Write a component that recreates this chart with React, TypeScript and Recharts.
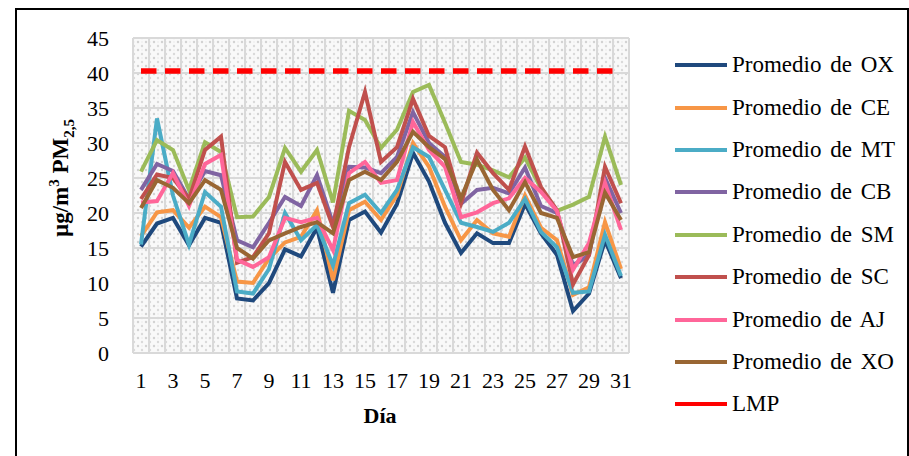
import { LineChart, Line, XAxis, YAxis, CartesianGrid } from 'recharts';

// día del mes
const DAYS = [1, 2, 3, 4, 5, 6, 7, 8, 9, 10, 11, 12, 13, 14, 15, 16, 17, 18, 19, 20, 21, 22, 23, 24, 25, 26, 27, 28, 29, 30, 31];
const X_TICKS = [1, 3, 5, 7, 9, 11, 13, 15, 17, 19, 21, 23, 25, 27, 29, 31];
const Y_TICKS = [0, 5, 10, 15, 20, 25, 30, 35, 40, 45];

// promedios diarios PM2,5 (µg/m3) por estación
const OX = [15.2, 18.5, 19.3, 15.4, 19.3, 18.6, 7.8, 7.5, 10, 14.8, 13.8, 17.9, 8.6, 19, 20.2, 17.2, 21.3, 28.6, 24.5, 18.6, 14.3, 17.1, 15.7, 15.7, 21.3, 17.1, 14, 6, 8.5, 16.1, 10.7];
const CE = [16.7, 20.1, 20.4, 17.9, 20.9, 19.4, 10.2, 10, 13.5, 15.8, 16.6, 20.4, 10.4, 20.4, 21.6, 19, 22.6, 30, 26.6, 20.9, 16.1, 19, 17.1, 16.6, 22.5, 17.9, 16.1, 8.3, 9.4, 18.7, 12];
const MT = [15.5, 33.5, 22.5, 15.5, 23, 20.9, 8.8, 8.5, 12, 20, 16.1, 18.3, 12.5, 21.4, 22.6, 20, 23.3, 29.4, 28, 23.3, 18.6, 18, 17.3, 18.6, 22, 17.3, 15.1, 8.6, 8.8, 16.9, 11];
const CB = [23.3, 27, 26, 22, 26, 25.4, 16.1, 15.1, 18.6, 22.3, 21, 25.4, 18.5, 26.6, 26.5, 25.7, 28, 34.4, 30, 28, 21.3, 23.3, 23.6, 22.8, 26.5, 21, 20, 12.5, 14, 25, 20];
const SM = [25.9, 30.4, 29, 23.3, 30.1, 28.7, 19.4, 19.5, 22.3, 29.3, 25.9, 29, 21.5, 34.6, 33.3, 29.3, 31.9, 37.3, 38.3, 32.9, 27.3, 26.9, 26.1, 25.1, 27.9, 23.5, 20.3, 21.2, 22.3, 30.9, 24];
const SC = [22, 25.5, 25, 22, 29, 30.9, 12.9, 13.7, 17.1, 27.3, 23.3, 24.3, 18, 29.4, 37.3, 27.3, 29.4, 36.3, 31, 29.4, 21.4, 28.6, 25.7, 23.3, 29.5, 23.7, 20.4, 9.8, 14, 26.6, 21.4];
const AJ = [21.5, 21.7, 25.7, 21, 27, 28.3, 13.3, 12.3, 13.7, 19.3, 18.7, 19.3, 14.7, 25.7, 27.3, 24.3, 24.7, 33, 29, 26.6, 19.4, 20.1, 21.4, 22.1, 25, 23, 20.3, 11.9, 15.7, 24.3, 17.6];
const XO = [20.7, 24.7, 23.6, 21.4, 24.7, 23.3, 15, 13.5, 16.1, 17.1, 18, 18.7, 17.1, 24.7, 25.9, 24.7, 27.3, 31.6, 29.4, 27.7, 22.1, 27.6, 23.3, 20.4, 24.4, 20, 19.3, 13.7, 14.4, 22.9, 19];
// límite máximo permisible
const LMP = 40.3;

const SERIES = [
  { key: 'OX', name: 'Promedio de OX', color: '#1f497d' },
  { key: 'CE', name: 'Promedio de CE', color: '#f79646' },
  { key: 'MT', name: 'Promedio de MT', color: '#4bacc6' },
  { key: 'CB', name: 'Promedio de CB', color: '#8064a2' },
  { key: 'SM', name: 'Promedio de SM', color: '#9bbb59' },
  { key: 'SC', name: 'Promedio de SC', color: '#c0504d' },
  { key: 'AJ', name: 'Promedio de AJ', color: '#ff6699' },
  { key: 'XO', name: 'Promedio de XO', color: '#996633' },
];

const rows = DAYS.map((day, i) => ({
  day,
  OX: OX[i], CE: CE[i], MT: MT[i], CB: CB[i],
  SM: SM[i], SC: SC[i], AJ: AJ[i], XO: XO[i],
  LMP,
}));

const FONT = '"Liberation Serif", "Times New Roman", serif';
const tick = { fill: '#000', fontSize: 22, fontFamily: FONT };

function LegendBox() {
  const items = [...SERIES, { key: 'LMP', name: 'LMP', color: '#ff0000' }];
  return (
    <div style={{ position: 'absolute', left: 675, top: 44, fontFamily: FONT, fontSize: 23, color: '#000' }}>
      {items.map((s) => (
        <div key={s.key} style={{ display: 'flex', alignItems: 'center', height: 42.4 }}>
          <span style={{ display: 'inline-block', width: 52, height: 4, background: s.color, marginRight: 5 }} />
          <span style={{ wordSpacing: 3, whiteSpace: 'nowrap' }}>{s.name}</span>
        </div>
      ))}
    </div>
  );
}

export default function App() {
  return (
    <div style={{ position: 'absolute', left: 0, top: 0, width: 909, height: 456, overflow: 'hidden', background: '#fff' }}>
      <svg width={0} height={0} style={{ position: 'absolute' }}>
        <defs>
          <pattern id="bgdots" width={8} height={8} patternUnits="userSpaceOnUse">
            <rect width={8} height={8} fill="#f9f9f9" />
            <circle cx={2} cy={2} r={1.2} fill="#d2d2d2" />
            <circle cx={6} cy={6} r={1.2} fill="#dadada" />
            <circle cx={6} cy={2} r={0.7} fill="#e6e6e6" />
          </pattern>
        </defs>
      </svg>
      <div style={{ position: 'absolute', left: 15, top: 8, width: 890, height: 470, border: '2px solid #000' }} />
      <LineChart
        width={909}
        height={456}
        data={rows}
        margin={{ top: 38, right: 280, bottom: 63, left: 0 }}
        style={{ position: 'absolute', left: 0, top: 0 }}
      >
        <CartesianGrid
          fill="url(#bgdots)"
          stroke="#d9d9d9"
          strokeWidth={2}
          verticalCoordinatesGenerator={({ offset }: any) =>
            Array.from({ length: DAYS.length + 1 }, (_, i) => offset.left + (i * offset.width) / DAYS.length)
          }
        />
        <XAxis
          dataKey="day" type="number" domain={[0.5, 31.5]} ticks={X_TICKS}
          tick={tick} tickLine={false} axisLine={false} tickSize={0} tickMargin={19}
          height={40} interval={0}
        />
        <YAxis
          type="number" domain={[0, 45]} ticks={Y_TICKS}
          tick={tick} tickLine={false} axisLine={false} tickSize={0} tickMargin={24}
          width={133} interval={0}
        />
        {SERIES.map((s) => (
          <Line
            key={s.key} type="linear" dataKey={s.key} name={s.name}
            stroke={s.color} strokeWidth={4} dot={false} activeDot={false}
            isAnimationActive={false}
          />
        ))}
        <Line
          type="linear" dataKey="LMP" name="LMP" stroke="#ff0000" strokeWidth={5.5}
          strokeDasharray="15.5 8.5" dot={false} activeDot={false} isAnimationActive={false}
        />
      </LineChart>
      <LegendBox />
      <div style={{
        position: 'absolute', left: 62, top: 178, transform: 'translate(-50%, -50%) rotate(-90deg)',
        fontFamily: FONT, fontSize: 23, fontWeight: 'bold', whiteSpace: 'nowrap', color: '#000',
      }}>
        µg/m<sup style={{ fontSize: 15 }}>3</sup> PM<sub style={{ fontSize: 15 }}>2,5</sub>
      </div>
      <div style={{
        position: 'absolute', left: 380, top: 416, transform: 'translate(-50%, -50%)',
        fontFamily: FONT, fontSize: 22, fontWeight: 'bold', color: '#000',
      }}>
        Día
      </div>
    </div>
  );
}
